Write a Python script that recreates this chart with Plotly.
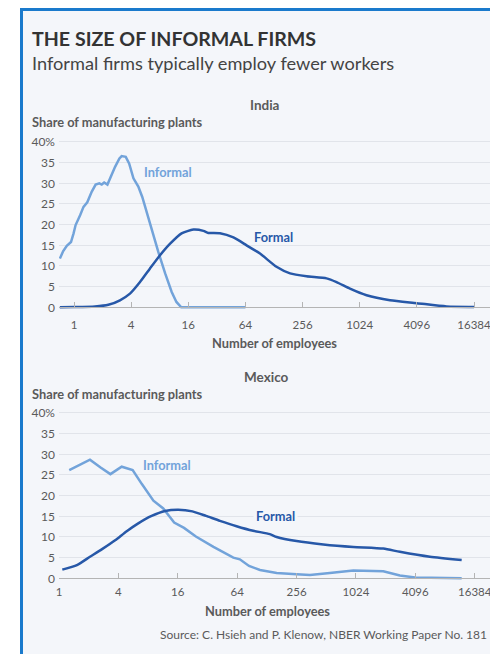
import plotly.graph_objects as go

# ---------------- data ----------------
tick_vals = [1, 4, 16, 64, 256, 1024, 4096, 16384]
tick_text = ["1", "4", "16", "64", "256", "1024", "4096", "16384"]
y_tick_vals = [0, 5, 10, 15, 20, 25, 30, 35, 40]
y_tick_text = ["0", "5", "10", "15", "20", "25", "30", "35", "40%"]

india_informal_x = [0.71, 0.77, 0.84, 0.93, 0.99, 1.04, 1.16, 1.26, 1.38, 1.54, 1.69, 1.85, 1.96,
                    2.08, 2.25, 2.46, 2.71, 3.01, 3.18, 3.51, 3.81, 4.23, 4.76, 5.24, 5.82, 6.59,
                    7.73, 9.13, 10.7, 12.0, 13.5, 64]
india_informal_y = [11.8, 13.6, 14.9, 15.8, 17.9, 19.9, 22.3, 24.3, 25.4, 28.0, 29.7, 30.0, 29.7,
                    30.2, 29.7, 32.0, 34.0, 36.0, 36.6, 36.4, 34.8, 31.2, 29.2, 26.7, 23.1, 18.3,
                    13.4, 8.2, 3.7, 1.3, 0.0, 0.0]

india_formal_x = [0.71, 1.0, 1.66, 2.3, 3.05, 3.89, 4.96, 6.32, 8.06, 10.3, 13.6, 18.1, 23.1, 26.0,
                  34.5, 47.8, 65.8, 91.1, 136, 189, 282, 458, 584, 809, 1209, 2135, 4096, 8420, 16384]
india_formal_y = [0.0, 0.05, 0.2, 0.6, 1.7, 3.3, 6.1, 9.4, 12.6, 15.4, 17.9, 18.8, 18.5, 18.0,
                  17.9, 16.9, 15.0, 13.0, 9.8, 8.2, 7.5, 7.0, 6.1, 4.5, 2.9, 1.7, 1.0, 0.2, 0.1]

mexico_informal_x = [1.27, 2.06, 2.64, 3.32, 4.32, 5.58, 6.92, 9.06, 11.4, 14.7, 18.5, 24.4, 36.8,
                     58.5, 68.1, 84.4, 109, 161, 256, 350, 556, 962, 1938, 2856, 4067, 7280, 12075]
mexico_informal_y = [26.2, 28.7, 26.8, 25.2, 27.0, 26.2, 22.8, 18.8, 16.9, 13.5, 12.2, 10.1, 7.6,
                     5.0, 4.6, 3.0, 2.0, 1.3, 1.0, 0.8, 1.3, 1.9, 1.7, 0.7, 0.2, 0.05, 0.0]

mexico_formal_x = [1.08, 1.52, 2.06, 2.71, 3.71, 4.86, 6.36, 8.69, 11.9, 16.2, 22.5, 30.9, 42.8,
                   63.1, 93, 137, 161, 256, 478, 962, 1938, 2856, 5751, 12075]
mexico_formal_y = [2.1, 3.2, 5.2, 7.0, 9.2, 11.4, 13.3, 15.1, 16.3, 16.6, 16.2, 15.1, 13.9,
                   12.6, 11.5, 10.7, 10.0, 9.0, 8.2, 7.6, 7.2, 6.4, 5.2, 4.4]

# ---------------- style ----------------
W, H = 490, 654
FONT = "Lato"
C_INF = "#72a3da"
C_FOR = "#2758a8"
C_BG = "#f4f6fa"
C_BORDER = "#1a7acc"
C_GRID = "#e1e4ea"
C_AXIS = "#b4b4b4"
C_TXT = "#5a5a5a"


def px(x):
    return x / W


def py(y):
    return 1 - y / H


fig = go.Figure()

fig.add_trace(go.Scatter(x=india_informal_x, y=india_informal_y, mode="lines",
                         line=dict(color=C_INF, width=2.5), xaxis="x", yaxis="y",
                         hoverinfo="skip", showlegend=False))
fig.add_trace(go.Scatter(x=india_formal_x, y=india_formal_y, mode="lines",
                         line=dict(color=C_FOR, width=2.5, shape="spline", smoothing=0.6),
                         xaxis="x", yaxis="y", hoverinfo="skip", showlegend=False))
fig.add_trace(go.Scatter(x=mexico_informal_x, y=mexico_informal_y, mode="lines",
                         line=dict(color=C_INF, width=2.5), xaxis="x2", yaxis="y2",
                         hoverinfo="skip", showlegend=False))
fig.add_trace(go.Scatter(x=mexico_formal_x, y=mexico_formal_y, mode="lines",
                         line=dict(color=C_FOR, width=2.5, shape="spline", smoothing=0.6),
                         xaxis="x2", yaxis="y2", hoverinfo="skip", showlegend=False))

# panel geometry (pixels)
LEFT = 59
IN_Y0, IN_Y40 = 307.3, 142.0
MX_Y0, MX_Y40 = 578.3, 413.0
YMIN, YMAX = -0.6, 40.4


def ydomain(y0px, y40px):
    k = (y0px - y40px) / 40.0
    bottom = y0px - YMIN * k
    top = y0px - YMAX * k
    return [py(bottom), py(top)]


common_x = dict(type="log", tickmode="array", tickvals=tick_vals, ticktext=tick_text,
                ticks="inside", ticklen=5, tickcolor=C_AXIS, tickwidth=1,
                showgrid=False, zeroline=False, showline=True, linecolor=C_AXIS, linewidth=1,
                tickfont=dict(family=FONT, size=11.5, color=C_TXT), anchor="free",
                ticklabeloverflow="allow", automargin=False, fixedrange=True)
common_y = dict(range=[YMIN, YMAX], tickmode="array", tickvals=y_tick_vals, ticktext=y_tick_text,
                showgrid=True, gridcolor=C_GRID, gridwidth=1, zeroline=False, showline=False,
                ticks="", tickfont=dict(family=FONT, size=12, color=C_TXT), ticklabelstandoff=3,
                automargin=False, fixedrange=True)

fig.update_layout(
    template="none",
    width=W, height=H,
    autosize=False,
    margin=dict(l=0, r=0, t=0, b=0, pad=0),
    paper_bgcolor=C_BG,
    plot_bgcolor="rgba(0,0,0,0)",
    font=dict(family=FONT, color=C_TXT),
    xaxis=dict(common_x, domain=[px(LEFT), 1], range=[-0.158, 4.383], position=py(IN_Y0),
               ticklabelstandoff=7),
    yaxis=dict(common_y, domain=ydomain(IN_Y0, IN_Y40), anchor="x"),
    xaxis2=dict(common_x, domain=[px(LEFT), 1], range=[0.0, 4.369], position=py(MX_Y0),
                ticklabelstandoff=3),
    yaxis2=dict(common_y, domain=ydomain(MX_Y0, MX_Y40), anchor="x2"),
    shapes=[
        # white surround on the left and top
        dict(type="rect", xref="paper", yref="paper", x0=0, x1=px(20), y0=0, y1=1,
             fillcolor="white", line=dict(width=0), layer="below"),
        dict(type="rect", xref="paper", yref="paper", x0=0, x1=1, y0=py(8), y1=1,
             fillcolor="white", line=dict(width=0), layer="below"),
        # blue frame
        dict(type="rect", xref="paper", yref="paper", x0=px(20), x1=px(23), y0=0, y1=py(8),
             fillcolor=C_BORDER, line=dict(width=0), layer="below"),
        dict(type="rect", xref="paper", yref="paper", x0=px(20), x1=1, y0=py(11), y1=py(8),
             fillcolor=C_BORDER, line=dict(width=0), layer="below"),
    ],
)

ann = []


def text(x, y, s, size, color=C_TXT, bold=False, xanchor="left", bg=None):
    d = dict(x=px(x), y=py(y), xref="paper", yref="paper", text=("<b>%s</b>" % s) if bold else s,
             showarrow=False, xanchor=xanchor, yanchor="middle",
             font=dict(family=FONT, size=size, color=color))
    if bg:
        d.update(bgcolor=bg, borderpad=2)
    ann.append(d)


text(29.5, 39, "THE SIZE OF INFORMAL FIRMS", 19.6, color="#333333", bold=True)
text(29.5, 63, "Informal firms typically employ fewer workers", 18.2, color="#444444")
text(264.5, 105, "India", 13.5, bold=True, xanchor="center")
text(30, 122, "Share of manufacturing plants", 12.8, bold=True)
text(274, 343, "Number of employees", 12.8, bold=True, xanchor="center")
text(266.5, 377, "Mexico", 13.5, bold=True, xanchor="center")
text(30, 394, "Share of manufacturing plants", 12.8, bold=True)
text(267, 610.5, "Number of employees", 12.8, bold=True, xanchor="center")
text(489, 634, "Source: C. Hsieh and P. Klenow, NBER Working Paper No. 181", 12.0, xanchor="right")

text(141.5, 172, "Informal", 12.8, color=C_INF, bold=True)
text(252, 237, "Formal", 12.8, color=C_FOR, bold=True)
text(140.5, 464.5, "Informal", 12.8, color=C_INF, bold=True)
text(253, 516, "Formal", 12.8, color=C_FOR, bold=True, bg=C_BG)

fig.update_layout(annotations=ann)

fig.write_html(
    "out.html", config={"displayModeBar": False, "staticPlot": True},
    post_script=("document.documentElement.style.overflow='hidden';"
                 "document.documentElement.style.margin='0';"
                 "document.body.style.margin='0';document.body.style.overflow='hidden';"))
